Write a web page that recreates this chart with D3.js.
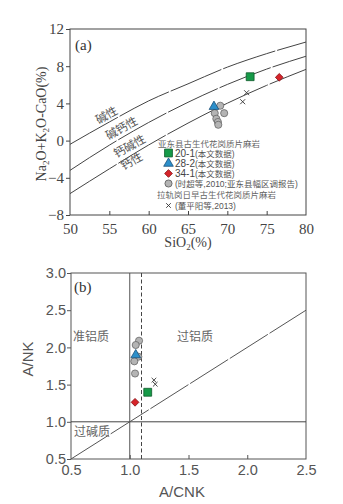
<!DOCTYPE html>
<html>
<head>
<meta charset="utf-8">
<script src="https://cdn.jsdelivr.net/npm/d3@7"></script>
<style>
  body { margin: 0; background: #fff; }
  svg { display: block; }
</style>
</head>
<body>
<div id="chart"></div>
<script>
// ---- data (a): SiO2 vs Na2O+K2O-CaO ----
const curveSi = [50, 55, 60, 65, 70, 75, 80];
const curveAlkalic = [-0.4, 2.0, 4.27, 6.1, 7.9, 9.35, 10.6];      // 碱性 / 碱钙性
const curveAlkCalc = [-3.2, -0.49, 1.95, 4.12, 6.04, 7.69, 9.07];  // 碱钙性 / 钙碱性
const curveCalcAlk = [-5.7, -3.04, -0.47, 1.88, 4.02, 5.94, 7.66]; // 钙碱性 / 钙性

const sampleNames = ["20-1", "28-2", "34-1"];
const sampleSi = [72.9, 68.3, 76.6];
const sampleMali = [6.87, 3.65, 6.8];

const grayA_Si = [68.4, 69.1, 69.6, 68.6, 68.8, 68.85];
const grayA_Mali = [2.95, 3.75, 2.95, 2.35, 2.0, 1.7];

const crossA_Si = [72.45, 71.95];
const crossA_Mali = [5.15, 4.18];

// ---- data (b): A/CNK vs A/NK ----
const sampleAcnk = [1.153, 1.051, 1.045];
const sampleAnk = [1.397, 1.898, 1.262];

const grayB_Acnk = [1.079, 1.051, 1.073, 1.039, 1.045];
const grayB_Ank = [2.09, 2.032, 1.875, 1.813, 1.649];

const crossB_Acnk = [1.206, 1.217];
const crossB_Ank = [1.56, 1.505];

const ticksA_x = [50, 55, 60, 65, 70, 75, 80];
const ticksA_y = [-8, -4, 0, 4, 8, 12];
const ticksB_x = [0.5, 1.0, 1.5, 2.0, 2.5];
const ticksB_y = [0.5, 1.0, 1.5, 2.0, 2.5, 3.0];

const sampleColors = ["#169a48", "#2c8fca", "#d6242a"];
const sampleStroke = ["#0c5a2a", "#1a4f77", "#8a1216"];
const sampleShapes = ["square", "triangle", "diamond"];

const W = 343, H = 504;
const serif = "'Liberation Serif', 'Noto Sans CJK SC', serif";
const sans = "'Liberation Sans', 'Noto Sans CJK SC', sans-serif";
const cjk = "'Noto Sans CJK SC', sans-serif";

const svg = d3.select("#chart").append("svg").attr("width", W).attr("height", H);

function marker(g, shape, x, y, fill, stroke) {
    let sym;
    if (shape === "square") sym = d3.symbol(d3.symbolSquare, 62);
    else if (shape === "triangle") sym = d3.symbol(d3.symbolTriangle, 40);
    else if (shape === "circle") sym = d3.symbol(d3.symbolCircle, 40);
    else sym = d3.symbol(d3.symbolSquare, 30);
    return g.append("path").attr("d", sym())
        .attr("fill", fill).attr("stroke", stroke).attr("stroke-width", 0.8)
        .attr("transform", `translate(${x},${y})` + (shape === "diamond" ? " rotate(45)" : ""));
}

function cross(g, x, y, s) {
    g.append("path").attr("d", `M${x - s},${y - s}L${x + s},${y + s}M${x - s},${y + s}L${x + s},${y - s}`)
        .attr("stroke", "#333").attr("stroke-width", 0.9).attr("fill", "none");
}

// ================= panel (a) =================
const xA = d3.scaleLinear().domain([50, 80]).range([70, 306]);
const yA = d3.scaleLinear().domain([-8, 12]).range([215, 29]);
const gA = svg.append("g");

// boundary curves
const lineA = d3.line().x(d => xA(d[0])).y(d => yA(d[1])).curve(d3.curveMonotoneX);
[curveAlkalic, curveAlkCalc, curveCalcAlk].forEach(arr => {
    gA.append("path").datum(curveSi.map((s, i) => [s, arr[i]]))
        .attr("d", lineA).attr("fill", "none")
        .attr("stroke", "#444").attr("stroke-width", 1)
        .attr("stroke-dasharray", "55 2");
});

// frame
gA.append("rect").attr("x", 70).attr("y", 29).attr("width", 236).attr("height", 186)
    .attr("fill", "none").attr("stroke", "#444").attr("stroke-width", 1);

const axAy = gA.append("g").attr("transform", "translate(70,0)")
    .call(d3.axisLeft(yA).tickValues(ticksA_y).tickSize(4).tickPadding(2));
const axAx = gA.append("g").attr("transform", "translate(0,215)")
    .call(d3.axisBottom(xA).tickValues(ticksA_x).tickSize(-4).tickPadding(8));
[axAy, axAx].forEach(ax => {
    ax.select(".domain").remove();
    ax.selectAll("line").attr("stroke", "#444");
    ax.selectAll("text").attr("font-family", serif).attr("font-size", 15).attr("fill", "#444");
});
axAx.selectAll(".tick").filter(d => d === 50 || d === 80).select("line").remove();

// axis titles
gA.append("text").attr("x", 188).attr("y", 247).attr("text-anchor", "middle")
    .attr("font-family", serif).attr("font-size", 14).attr("fill", "#444")
    .html('SiO<tspan font-size="9" dy="3">2</tspan><tspan dy="-3">(%)</tspan>');
gA.append("text").attr("transform", "translate(46,124) rotate(-90)").attr("text-anchor", "middle")
    .attr("font-family", serif).attr("font-size", 14).attr("fill", "#444")
    .html('Na<tspan font-size="9" dy="3">2</tspan><tspan dy="-3">O+K</tspan><tspan font-size="9" dy="3">2</tspan><tspan dy="-3">O-CaO(%)</tspan>');

gA.append("text").attr("x", 75).attr("y", 50).attr("font-family", serif)
    .attr("font-size", 15).attr("fill", "#333").text("(a)");

// field labels
[["碱性", 107, 116], ["碱钙性", 122, 129], ["钙碱性", 130, 147], ["钙性", 132, 162]].forEach(d => {
    gA.append("text").attr("transform", `translate(${d[1]},${d[2]}) rotate(-29)`)
        .attr("text-anchor", "middle").attr("dominant-baseline", "middle")
        .attr("font-family", cjk).attr("font-size", 11.5).attr("fill", "#555").text(d[0]);
});

// data points
grayA_Si.forEach((s, i) => marker(gA, "circle", xA(s), yA(grayA_Mali[i]), "#b4b4b4", "#666"));
crossA_Si.forEach((s, i) => cross(gA, xA(s), yA(crossA_Mali[i]), 2.5));
sampleSi.forEach((s, i) => marker(gA, sampleShapes[i], xA(s), yA(sampleMali[i]), sampleColors[i], sampleStroke[i]));

// legend (rows are tight in the original figure)
const lg = gA.append("g").attr("font-family", sans).attr("font-size", 8.5);
lg.append("text").attr("x", 158).attr("y", 147).attr("fill", "#666").text("亚东县古生代花岗质片麻岩");
const legRowsY = [153, 163.5, 173.5];
sampleNames.forEach((n, i) => {
    marker(lg, sampleShapes[i], 168.5, legRowsY[i], sampleColors[i], sampleStroke[i]);
    const t = lg.append("text").attr("x", 175).attr("y", legRowsY[i] + 3.5).attr("fill", "#444");
    t.append("tspan").attr("font-size", 10).text(n);
    t.append("tspan").attr("fill", "#555").text("(本文数据)");
});
marker(lg, "circle", 168.5, 183.5, "#b4b4b4", "#555");
lg.append("text").attr("x", 175).attr("y", 186.5).attr("fill", "#555").text("(时超等,2010;亚东县幅区调报告)");
lg.append("text").attr("x", 157).attr("y", 198).attr("fill", "#666").text("拉轨岗日早古生代花岗质片麻岩");
cross(lg, 168.5, 205.5, 2.3);
lg.append("text").attr("x", 175).attr("y", 208.5).attr("fill", "#555").text("(董平阳等,2013)");

// ================= panel (b) =================
const xB = d3.scaleLinear().domain([0.5, 2.5]).range([71, 306]);
const yB = d3.scaleLinear().domain([0.5, 3.0]).range([459, 273]);
const gB = svg.append("g");

// frame
gB.append("rect").attr("x", 71).attr("y", 273).attr("width", 235).attr("height", 186)
    .attr("fill", "none").attr("stroke", "#555").attr("stroke-width", 1);

// reference lines
gB.append("line").attr("x1", xB(1.0)).attr("x2", xB(1.0)).attr("y1", yB(3.0)).attr("y2", yB(0.5))
    .attr("stroke", "#555").attr("stroke-width", 1);
gB.append("line").attr("x1", xB(1.1)).attr("x2", xB(1.1)).attr("y1", yB(3.0)).attr("y2", yB(0.5))
    .attr("stroke", "#444").attr("stroke-width", 1).attr("stroke-dasharray", "4 2.5");
gB.append("line").attr("x1", xB(0.5)).attr("x2", xB(2.5)).attr("y1", yB(1.0)).attr("y2", yB(1.0))
    .attr("stroke", "#444").attr("stroke-width", 1);
gB.append("line").attr("x1", xB(0.5)).attr("x2", xB(2.5)).attr("y1", yB(0.5)).attr("y2", yB(2.5))
    .attr("stroke", "#555").attr("stroke-width", 1).attr("stroke-dasharray", "45 2");

const axBy = gB.append("g").attr("transform", "translate(71,0)")
    .call(d3.axisLeft(yB).tickValues(ticksB_y).tickFormat(d3.format(".1f")).tickSize(4).tickPadding(1));
const axBx = gB.append("g").attr("transform", "translate(0,459)")
    .call(d3.axisBottom(xB).tickValues(ticksB_x).tickFormat(d3.format(".1f")).tickSize(-4).tickPadding(6));
[axBy, axBx].forEach(ax => {
    ax.select(".domain").remove();
    ax.selectAll("line").attr("stroke", "#555");
    ax.selectAll("text").attr("font-family", sans).attr("font-size", 14.5).attr("fill", "#555");
});
axBx.selectAll(".tick").filter(d => d === 0.5 || d === 2.5).select("line").remove();

gB.append("text").attr("x", 182).attr("y", 497).attr("text-anchor", "middle")
    .attr("font-family", sans).attr("font-size", 15).attr("fill", "#555").text("A/CNK");
gB.append("text").attr("transform", "translate(33,359) rotate(-90)").attr("text-anchor", "middle")
    .attr("font-family", sans).attr("font-size", 15).attr("fill", "#555").text("A/NK");

gB.append("text").attr("x", 74).attr("y", 292).attr("font-family", serif)
    .attr("font-size", 15).attr("fill", "#333").text("(b)");

[["准铝质", 91, 338], ["过铝质", 195, 338], ["过碱质", 92, 433]].forEach(d => {
    gB.append("text").attr("x", d[1]).attr("y", d[2]).attr("text-anchor", "middle")
        .attr("dominant-baseline", "middle").attr("font-family", cjk)
        .attr("font-size", 12).attr("fill", "#666").text(d[0]);
});

grayB_Acnk.forEach((a, i) => marker(gB, "circle", xB(a), yB(grayB_Ank[i]), "#b4b4b4", "#666"));
crossB_Acnk.forEach((a, i) => cross(gB, xB(a), yB(crossB_Ank[i]), 2.3));
sampleAcnk.forEach((a, i) => marker(gB, sampleShapes[i], xB(a), yB(sampleAnk[i]), sampleColors[i], sampleStroke[i]));
</script>
</body>
</html>
